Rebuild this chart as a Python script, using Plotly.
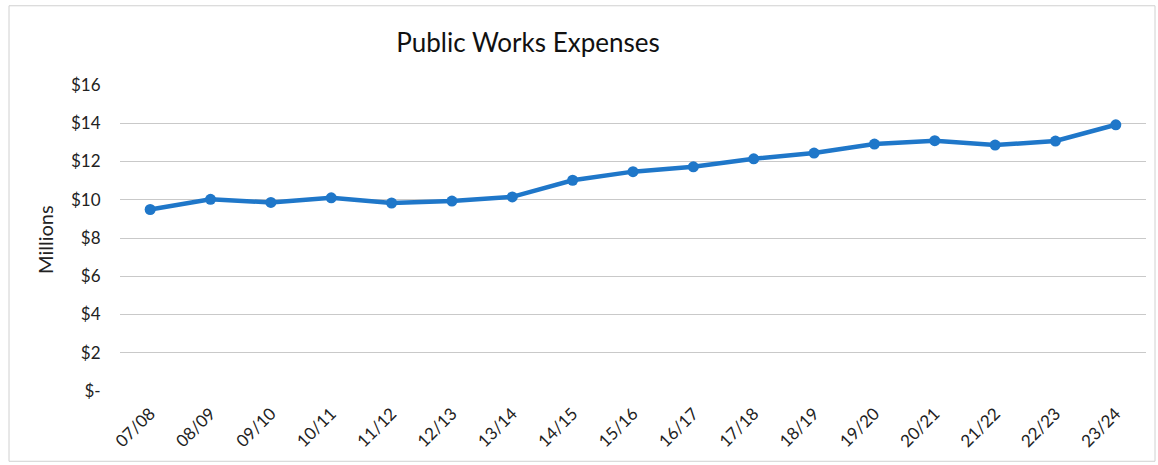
import plotly.graph_objects as go

# Fiscal years and Public Works expenses (in millions of dollars)
fiscal_years = ["07/08", "08/09", "09/10", "10/11", "11/12", "12/13", "13/14", "14/15",
                "15/16", "16/17", "17/18", "18/19", "19/20", "20/21", "21/22", "22/23", "23/24"]
expenses = [9.49, 10.02, 9.86, 10.10, 9.83, 9.93, 10.15, 11.02,
            11.47, 11.72, 12.14, 12.44, 12.91, 13.09, 12.86, 13.07, 13.92]

y_tick_values = [0, 2, 4, 6, 8, 10, 12, 14, 16]
y_tick_labels = ["$-", "$2", "$4", "$6", "$8", "$10", "$12", "$14", "$16"]

W, H = 1158, 465
ML, MR, MT, MB = 120, 12, 84.5, 73.5
PW, PH = W - ML - MR, H - MT - MB


def px_x(p):
    return (p - ML) / PW


def px_y(p):
    return (H - MB - p) / PH


font_family = "Lato, 'Open Sans', sans-serif"
line_blue = "#1f77c9"

fig = go.Figure(
    go.Scatter(
        x=fiscal_years,
        y=expenses,
        mode="lines+markers",
        line=dict(color=line_blue, width=4.5),
        marker=dict(color=line_blue, size=11),
        hoverinfo="x+y",
    )
)

fig.update_layout(
    width=W,
    height=H,
    margin=dict(l=ML, r=MR, t=MT, b=MB),
    paper_bgcolor="white",
    plot_bgcolor="white",
    showlegend=False,
    font=dict(family=font_family, color="#222222"),
    title=dict(
        text="Public Works Expenses",
        font=dict(family=font_family, size=26, color="#111111"),
        x=528 / W,
        xanchor="center",
        y=1 - 43 / H,
        yanchor="middle",
        xref="container",
        yref="container",
    ),
    xaxis=dict(
        type="category",
        range=[-0.5, len(fiscal_years) - 0.5],
        tickangle=-45,
        tickfont=dict(size=17, color="#222222"),
        showgrid=False,
        showline=False,
        zeroline=False,
        ticks="outside",
        ticklen=5,
        tickcolor="rgba(0,0,0,0)",
    ),
    yaxis=dict(
        range=[0, 16],
        tickvals=y_tick_values,
        ticktext=y_tick_labels,
        tickfont=dict(size=17, color="#222222"),
        showgrid=True,
        gridcolor="#c9c9c9",
        gridwidth=1,
        zeroline=False,
        showline=False,
        ticks="outside",
        ticklen=15,
        tickcolor="rgba(0,0,0,0)",
    ),
    annotations=[
        dict(
            text="Millions",
            x=px_x(45),
            y=px_y(240),
            xref="paper",
            yref="paper",
            showarrow=False,
            textangle=-90,
            font=dict(family=font_family, size=20, color="#222222"),
            xanchor="center",
            yanchor="middle",
        )
    ],
    shapes=[
        # light chart frame
        dict(
            type="rect",
            xref="paper",
            yref="paper",
            x0=px_x(9),
            x1=px_x(1155),
            y0=px_y(462),
            y1=px_y(5),
            line=dict(color="#d0d0d0", width=1),
            layer="below",
        )
    ],
)

fig.write_html("out.html")
